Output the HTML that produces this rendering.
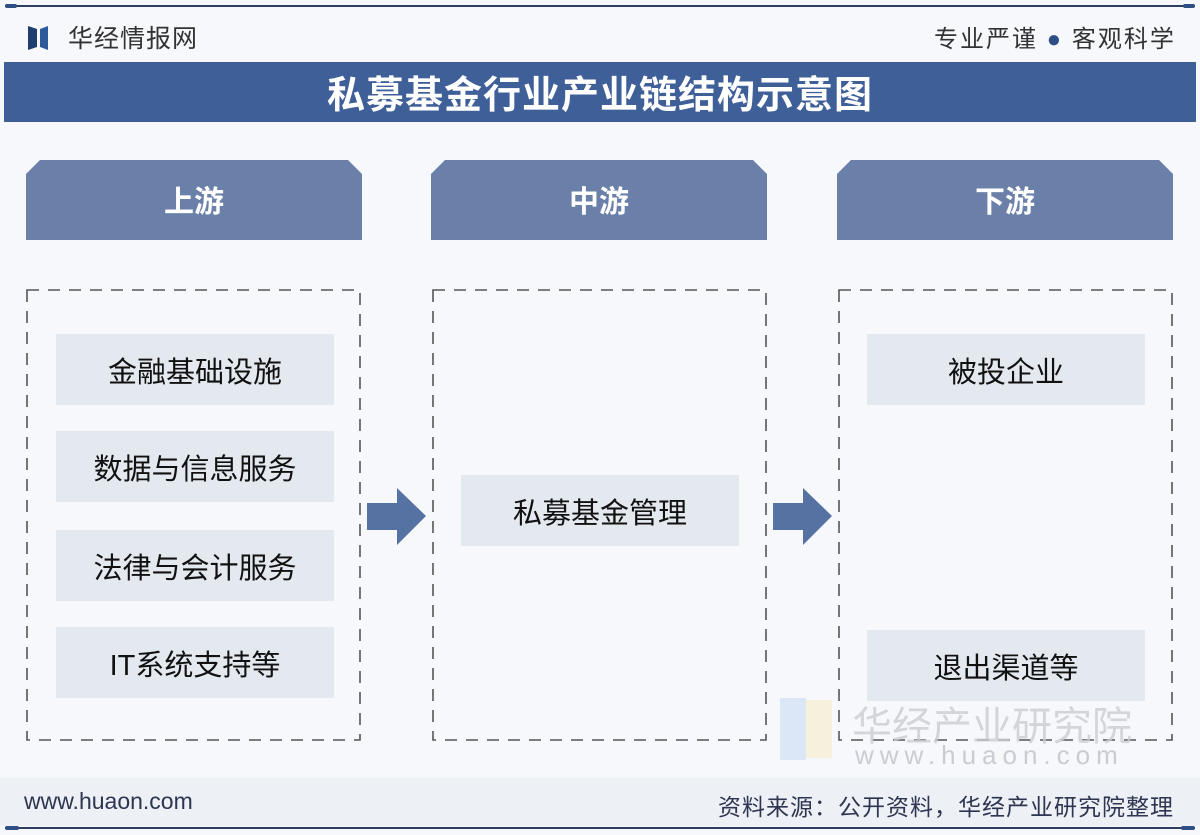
<!DOCTYPE html>
<html><head><meta charset="utf-8"><style>
body{margin:0;width:1200px;height:835px;background:#f7f8fb;position:relative;overflow:hidden;font-family:"Liberation Sans","Noto Sans CJK SC",sans-serif}
.a{position:absolute}
.tab{position:absolute;top:160px;width:336px;height:80px;background:#6b80a9;color:#fff;font-size:30px;font-weight:bold;text-align:center;line-height:86px;clip-path:polygon(14px 0,calc(100% - 14px) 0,100% 14px,100% 100%,0 100%,0 14px)}
.it{position:absolute;width:278px;height:71px;background:#e4e8ef;color:#111;font-size:29px;text-align:center;line-height:78px}
</style></head><body>
<div class="a" style="left:5px;top:5px;width:1190px;height:2px;background:#2d3e5e"></div>
<div class="a" style="left:5px;top:4px;width:12px;height:4px;background:#2d4f85;border-radius:2px"></div>
<div class="a" style="left:1183px;top:4px;width:12px;height:4px;background:#2d4f85;border-radius:2px"></div>
<svg class="a" style="left:28px;top:24px" width="28" height="26"><polygon points="0,2 9,5 9,23 0,26" fill="#1f3d6e"/><polygon points="12,5 20,2 20,26 12,23" fill="#2d5a9a"/></svg>
<div class="a" style="left:68px;top:19px;font-size:25px;color:#333;letter-spacing:1px">华经情报网</div>
<div class="a" style="left:934px;top:19px;font-size:24px;color:#333;letter-spacing:2px">专业严谨 <span style="color:#2d4f85">●</span> 客观科学</div>
<div class="a" style="left:4px;top:62px;width:1192px;height:60px;background:#3f5f98;color:#fff;font-size:38px;font-weight:bold;text-align:center;line-height:68px;letter-spacing:1px">私募基金行业产业链结构示意图</div>
<div class="tab" style="left:26px">上游</div>
<div class="tab" style="left:431px">中游</div>
<div class="tab" style="left:837px">下游</div>
<svg class="a" style="left:0;top:0" width="1200" height="835">
<g fill="none" stroke="#555" stroke-width="1.6" stroke-dasharray="12 9">
<rect x="27" y="290" width="333" height="450"/>
<rect x="433" y="290" width="333" height="450"/>
<rect x="839" y="290" width="333" height="450"/>
</g>
<polygon points="367,503 397,503 397,488 426,516 397,545 397,530 367,530" fill="#5572a3"/>
<polygon points="773,503 803,503 803,488 832,516 803,545 803,530 773,530" fill="#5572a3"/>
</svg>
<div class="it" style="left:56px;top:334px">金融基础设施</div>
<div class="it" style="left:56px;top:431px">数据与信息服务</div>
<div class="it" style="left:56px;top:530px">法律与会计服务</div>
<div class="it" style="left:56px;top:627px">IT系统支持等</div>
<div class="it" style="left:461px;top:475px">私募基金管理</div>
<div class="it" style="left:867px;top:334px">被投企业</div>
<div class="it" style="left:867px;top:630px">退出渠道等</div>
<div class="a" style="left:780px;top:698px;width:26px;height:62px;background:#cfe0f3;opacity:.7"></div>
<div class="a" style="left:806px;top:700px;width:26px;height:58px;background:#f6ecd0;opacity:.7"></div>
<div class="a" style="left:852px;top:694px;font-size:40px;color:#c9cdd3;opacity:.8">华经产业研究院</div>
<div class="a" style="left:855px;top:740px;font-size:26px;color:#c9cdd3;letter-spacing:6px">www.huaon.com</div>
<div class="a" style="left:0;top:778px;width:1200px;height:48px;background:#edf0f5"></div>
<div class="a" style="left:24px;top:788px;font-size:23px;color:#2d3550">www.huaon.com</div>
<div class="a" style="right:26px;top:788px;font-size:23px;color:#2d3550;letter-spacing:1px">资料来源：公开资料，华经产业研究院整理</div>
<div class="a" style="left:5px;top:827px;width:1190px;height:2px;background:#2d3e5e"></div>
<div class="a" style="left:5px;top:826px;width:14px;height:4px;background:#2d4f85;border-radius:2px"></div>
<div class="a" style="left:1181px;top:826px;width:14px;height:4px;background:#2d4f85;border-radius:2px"></div>
</body></html>
